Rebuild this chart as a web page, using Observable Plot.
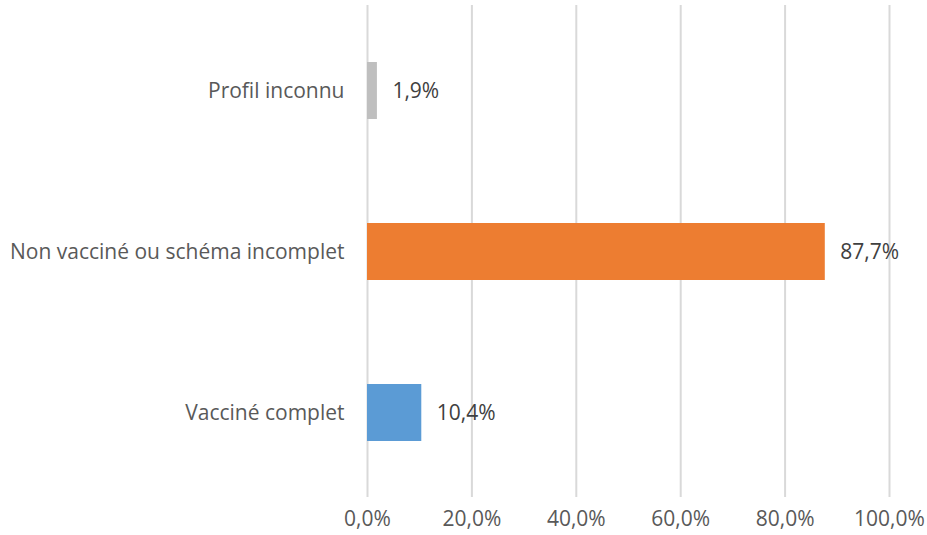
<!DOCTYPE html>
<html>
<head>
<meta charset="utf-8">
<script src="https://cdn.jsdelivr.net/npm/d3@7"></script>
<script src="https://cdn.jsdelivr.net/npm/@observablehq/plot@0.6"></script>
<style>
  html, body { margin: 0; padding: 0; background: #fff; }
  #chart svg { display: block; }
</style>
</head>
<body>
<div id="chart"></div>
<script>
const categories = ["Profil inconnu", "Non vacciné ou schéma incomplet", "Vacciné complet"];
const values = [1.9, 87.7, 10.4];
const colors = ["#BFBFBF", "#ED7D31", "#5B9BD5"];
const xTicks = [0, 20, 40, 60, 80, 100];

const data = categories.map((c, i) => ({category: c, value: values[i], color: colors[i]}));
const fmt = v => v.toFixed(1).replace(".", ",") + "%";
const FS = 21;

const chart = Plot.plot({
  width: 927,
  height: 535,
  marginLeft: 367,
  marginRight: 38,
  marginTop: 5,
  marginBottom: 38,
  style: {fontFamily: "'Open Sans', sans-serif", fontSize: FS + "px", color: "#595959", background: "#fff"},
  x: {domain: [0, 100], ticks: xTicks, tickFormat: fmt, tickSize: 0, tickPadding: 14, label: null},
  y: {domain: categories, paddingInner: 0.647, paddingOuter: 0.347, tickSize: 0, tickPadding: 23, label: null},
  marks: [
    Plot.gridX(xTicks, {stroke: "#D9D9D9", strokeOpacity: 1, strokeWidth: 2}),
    Plot.barX(data, {x: "value", y: "category", fill: "color"}),
    Plot.text(data, {x: "value", y: "category", text: d => fmt(d.value), textAnchor: "start", dx: 15, fill: "#404040", fontSize: FS}),
    Plot.axisX({ticks: xTicks, tickFormat: fmt, tickSize: 0, tickPadding: 14, fill: "#595959", fontSize: FS}),
    Plot.axisY({tickSize: 0, tickPadding: 23, fill: "#595959", fontSize: FS})
  ]
});
document.getElementById("chart").appendChild(chart);
</script>
</body>
</html>
